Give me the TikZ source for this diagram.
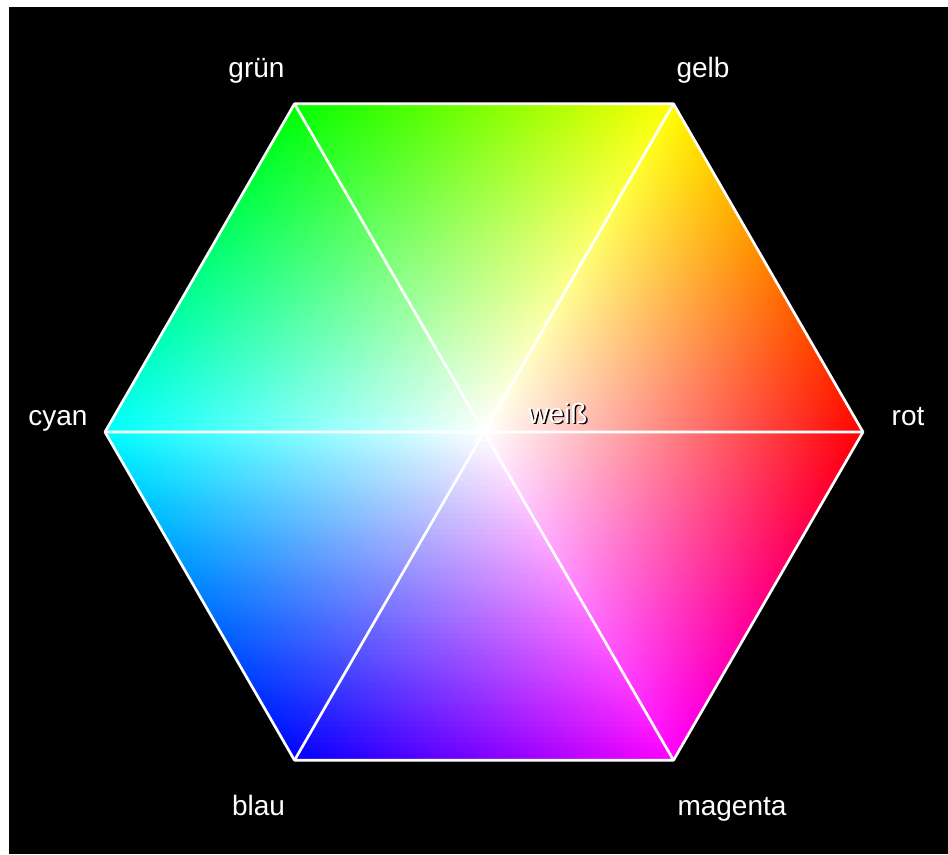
\documentclass[tikz,border=0pt]{standalone}
\usepackage{fontspec}
\setmainfont{Liberation Sans}
\definecolor{rot}{rgb}{1,0,0}
\definecolor{gelb}{rgb}{1,1,0}
\definecolor{gruen}{rgb}{0,1,0}
\definecolor{cyan}{rgb}{0,1,1}
\definecolor{blau}{rgb}{0,0,1}
\definecolor{magenta}{rgb}{1,0,1}
\begin{document}
\begin{tikzpicture}[x=0.75pt,y=0.75pt,
    linea/.style={white, line width=2pt, line join=round},
    etiqueta/.style={text=white, anchor=base, inner sep=0pt, font=\fontsize{21}{25}\selectfont}]
  % Parámetros: centro, radio del hexágono y número de franjas
  \def\cx{484}
  \def\cy{422}
  \def\R{379}
  \def\N{60}
  \pgfmathsetmacro{\alto}{\R*sqrt(3)/2}
  \pgfmathsetmacro{\paso}{\alto/\N}

  \useasboundingbox (0,0) rectangle (948,854);
  % Fondo negro
  \fill[black] (9,0) rectangle (948,847);

  % Vértices del hexágono
  \foreach \nombre/\ang in {rot/0, gelb/60, gruen/120, cyan/180, blau/240, magenta/300}
    \coordinate (\nombre) at ({\cx+\R*cos(\ang)},{\cy+\R*sin(\ang)});

  % Triángulos: franjas paralelas al borde, de blanco (centro) al color
  \foreach \k/\colizq/\colder in {0/gruen/gelb, 1/gelb/rot, 2/rot/magenta, 3/magenta/blau, 4/blau/cyan, 5/cyan/gruen}{
    \begin{scope}[transform canvas={shift={(\cx,\cy)}, rotate=-60*\k}]
      \foreach \n in {1,...,\N}{
        \pgfmathsetmacro{\ya}{max(\paso*(\n-1)-0.8,0)}
        \pgfmathsetmacro{\yb}{\paso*\n}
        \pgfmathsetmacro{\wa}{\ya/sqrt(3)}
        \pgfmathsetmacro{\wb}{\yb/sqrt(3)}
        \pgfmathsetmacro{\pct}{100*(\n-0.5)/\N}
        \shade[left color=\colizq!\pct!white, right color=\colder!\pct!white]
          (-\wa,\ya) -- (\wa,\ya) -- (\wb,\yb) -- (-\wb,\yb) -- cycle;
      }
    \end{scope}
  }

  % Borde y diagonales
  \draw[linea] (rot) -- (gelb) -- (gruen) -- (cyan) -- (blau) -- (magenta) -- cycle;
  \draw[linea] (rot) -- (cyan) (gelb) -- (blau) (gruen) -- (magenta);

  % Nombres de los colores
  \node[etiqueta] (lgruen) at (256.5,776) {grün};
  \node[etiqueta] (lgelb) at (703,776) {gelb};
  \node[etiqueta] (lcyan) at (58,429) {cyan};
  \node[etiqueta] (lrot) at (908,429) {rot};
  \node[etiqueta] (lblau) at (258.5,39) {blau};
  \node[etiqueta] (lmagenta) at (732,39) {magenta};
  % weiß con sombra negra
  \node[etiqueta, text=black] (lweisssombra) at (559.5,429.5) {weiß};
  \node[etiqueta] (lweiss) at (558,431) {weiß};
\end{tikzpicture}
\end{document}
